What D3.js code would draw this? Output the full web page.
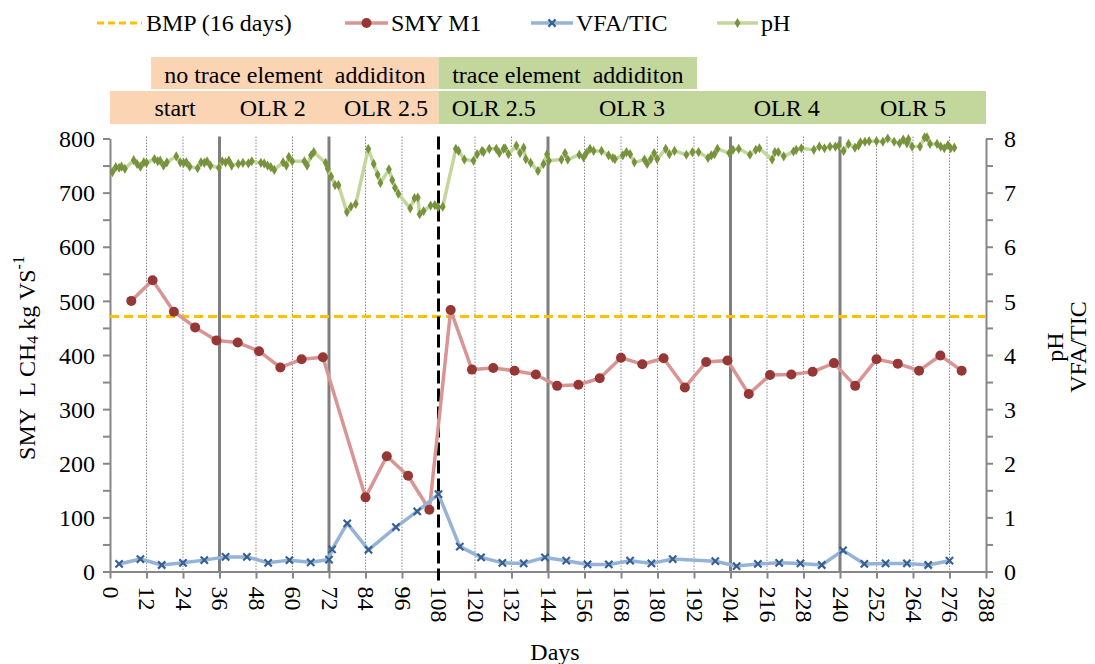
<!DOCTYPE html>
<html><head><meta charset="utf-8">
<script src="https://cdn.jsdelivr.net/npm/d3@7"></script>
<style>
body{margin:0;background:#fff;}
text{font-family:"Liberation Serif","Times New Roman",serif;fill:#000;}
</style>
</head><body>
<svg id="chart" width="1095" height="664"></svg>
<script>
// ---------- DATA ----------
const bmpValue = 471;
const smyDays   = [7,14,21,28,35,42,49,56,63,70,84,91,98,105,112,119,126,133,140,147,154,161,168,175,182,189,196,203,210,217,224,231,238,245,252,259,266,273,280];
const smyValues = [500,538,480,451,427,423,407,377,392,396,137,213,177,114,483,373,376,371,364,343,345,357,395,383,394,340,387,390,328,363,364,369,385,343,392,384,371,399,371];

const vfaDays   = [3,10,17,24,31,38,45,52,59,66,72,73,78,85,94,101,108,115,122,129,136,143,150,157,164,171,178,185,199,206,213,220,227,234,241,248,255,262,269,276];
const vfaValues = [0.14,0.23,0.12,0.16,0.21,0.27,0.27,0.16,0.21,0.17,0.22,0.41,0.89,0.40,0.82,1.11,1.43,0.46,0.26,0.16,0.15,0.26,0.20,0.13,0.13,0.20,0.15,0.23,0.19,0.10,0.14,0.16,0.15,0.12,0.39,0.14,0.15,0.15,0.12,0.20];

const phDays = [0.8,1.9,3,3.8,4.9,7.8,8.9,10,11.1,12,14.6,15.7,16.5,17.6,18.7,21.8,23.1,24.2,25.1,26.2,28.8,29.9,31,31.9,33,35.8,36.9,38,39.1,40,42.2,43.7,45.5,46.6,49.6,50.7,51.8,52.9,54,56.9,58,58.8,59.9,63.9,64.8,66.1,67,70.9,71.6,72.7,74,75.1,77.9,79.2,80.8,84.9,86.7,88,88.9,91.7,92.8,93.7,94.8,98.7,100.1,101.2,101.8,103.1,105.4,106.8,107.9,109.4,
  113.7,114.6,116.5,119.5,120.7,122.3,122.8,124.7,127,128,129.4,129.9,131,133.6,134.8,136,136.7,138.3,140.7,142.5,143.7,144.3,148.4,149.6,150.5,154.3,155.7,156.6,157.8,159,161.6,163.9,165.3,166,168.6,169.8,171,172.4,175.7,176.6,177.8,178.9,179.9,182.7,183.9,185.6,189.5,191.5,193.5,196.6,197.7,198.7,199.7,203.6,204.8,206.7,210.4,212.3,213.5,217.7,218.6,219.7,221.5,224.7,225.6,227.3,231.4,233.2,234.9,236.7,238.5,239.6,241.2,242.8,244.9,246.1,246.7,248.2,249.6,252,254.1,255.7,257.8,259.6,260.8,262,262.5,263.7,266.3,267.8,268.6,269.6,271.9,273.1,274.3,275.5,276.4,277.6];
const phValues = [7.38,7.47,7.46,7.48,7.44,7.60,7.53,7.48,7.56,7.55,7.62,7.58,7.59,7.50,7.56,7.67,7.56,7.55,7.56,7.48,7.45,7.56,7.55,7.58,7.50,7.46,7.58,7.56,7.59,7.50,7.53,7.55,7.54,7.58,7.55,7.54,7.50,7.47,7.42,7.56,7.50,7.66,7.58,7.58,7.50,7.69,7.75,7.55,7.44,7.30,7.14,7.14,6.64,6.74,6.79,7.81,7.53,7.33,7.18,7.43,7.23,7.09,6.98,6.71,6.90,6.91,6.60,6.66,6.76,6.77,6.73,6.74,
  7.81,7.77,7.61,7.59,7.71,7.77,7.75,7.81,7.81,7.73,7.81,7.82,7.71,7.87,7.73,7.83,7.62,7.55,7.40,7.53,7.71,7.59,7.61,7.73,7.61,7.70,7.65,7.73,7.81,7.77,7.77,7.69,7.64,7.62,7.69,7.75,7.71,7.56,7.61,7.53,7.62,7.73,7.62,7.81,7.71,7.77,7.70,7.75,7.75,7.64,7.69,7.71,7.81,7.73,7.79,7.81,7.70,7.79,7.82,7.61,7.75,7.75,7.67,7.76,7.79,7.82,7.79,7.85,7.82,7.85,7.85,7.87,7.77,7.90,7.83,7.87,7.93,7.94,7.95,7.95,7.94,8.00,7.94,7.91,7.98,7.91,7.99,7.85,7.85,8.02,8.02,7.90,7.90,7.85,7.82,7.88,7.82,7.83];

const xTickValues = d3.range(0, 289, 12);
const phaseDays = [36, 72, 144, 204, 240];
const traceDay = 108;
const leftTicks = d3.range(0, 801, 50);
const rightTicks = d3.range(0, 8.01, 0.5);

const row1Labels = ["no trace element  addiditon", "trace element  addiditon"];
const row1Spans  = [[13.5, 108], [108, 193]];
const row2Spans  = [[0, 108], [108, 288]];
const row2Labels = ["start", "OLR 2", "OLR 2.5", "OLR 2.5", "OLR 3", "OLR 4", "OLR 5"];
const row2Centers = [21.4, 53.5, 90.7, 126.2, 171.6, 222.5, 264];

const legendNames = ["BMP (16 days)", "SMY M1", "VFA/TIC", "pH"];

// ---------- STYLE ----------
const C = {
  peach: "#FBD4B4", green: "#C3D69B", axis: "#878787",
  bmp: "#FFC000", smyLine: "#D99594", smyMark: "#953735",
  vfaLine: "#95B3D7", vfaMark: "#376092", phLine: "#C3D69B", phMark: "#77933C"
};
const FS = 24;

const svg = d3.select("#chart");
const x = d3.scaleLinear().domain([0, 288]).range([110, 986]);
const yL = d3.scaleLinear().domain([0, 800]).range([571.5, 138.5]);
const yR = d3.scaleLinear().domain([0, 8]).range([571.5, 138.5]);

// ---------- header bands ----------
const hdr = svg.append("g");
const row1Colors = [C.peach, C.green];
row1Spans.forEach((s, i) => {
  hdr.append("rect").attr("x", x(s[0])).attr("y", 57).attr("width", x(s[1]) - x(s[0])).attr("height", 32).attr("fill", row1Colors[i]);
  hdr.append("text").attr("x", (x(s[0]) + x(s[1])) / 2).attr("y", 83).attr("text-anchor", "middle")
    .attr("font-size", FS).style("white-space", "pre").text(row1Labels[i]);
});
row2Spans.forEach((s, i) => {
  hdr.append("rect").attr("x", x(s[0])).attr("y", 91).attr("width", x(s[1]) - x(s[0])).attr("height", 33).attr("fill", row1Colors[i]);
});
row2Labels.forEach((l, i) => {
  hdr.append("text").attr("x", x(row2Centers[i])).attr("y", 116).attr("text-anchor", "middle")
    .attr("font-size", FS).text(l);
});

// ---------- grid / phase lines ----------
const grid = svg.append("g");
xTickValues.filter(d => d > 0 && d < 288 && d !== traceDay && !phaseDays.includes(d)).forEach(d => {
  grid.append("line").attr("x1", x(d)).attr("x2", x(d)).attr("y1", yL(800) - 2).attr("y2", yL(0))
    .attr("stroke", "#8a8a8a").attr("stroke-width", 1).attr("stroke-dasharray", "1.5,1.5");
});
phaseDays.forEach(d => {
  grid.append("line").attr("x1", x(d)).attr("x2", x(d)).attr("y1", yL(800) - 2).attr("y2", yL(0))
    .attr("stroke", "#7f7f7f").attr("stroke-width", 3);
});

// ---------- axes ----------
function styleAxis(g) {
  g.selectAll(".domain").attr("stroke", C.axis).attr("stroke-width", 2);
  g.selectAll(".tick line").attr("stroke", C.axis).attr("stroke-width", 2);
  g.selectAll(".tick text").attr("font-size", FS).attr("font-family", "Liberation Serif").attr("fill", "#000");
}
const gL = svg.append("g").attr("transform", `translate(${x(0)},0)`)
  .call(d3.axisLeft(yL).tickValues(leftTicks).tickSize(7).tickSizeOuter(0).tickPadding(8)
    .tickFormat(d => d % 100 === 0 ? d : ""));
styleAxis(gL);
gL.selectAll(".tick text").attr("dy", "0.34em");

const gR = svg.append("g").attr("transform", `translate(${x(288)},0)`)
  .call(d3.axisRight(yR).tickValues(rightTicks).tickSize(7).tickSizeOuter(0).tickPadding(11)
    .tickFormat(d => Number.isInteger(d) ? d : ""));
styleAxis(gR);
gR.selectAll(".tick text").attr("dy", "0.34em");

const gB = svg.append("g").attr("transform", `translate(0,${yL(0)})`)
  .call(d3.axisBottom(x).tickValues(xTickValues).tickSize(7).tickSizeOuter(0));
styleAxis(gB);
gB.selectAll(".tick text").attr("y", null).attr("dy", null)
  .attr("transform", "translate(0,15) rotate(90)").attr("text-anchor", "start")
  .attr("dominant-baseline", "central");

// ---------- BMP line ----------
svg.append("line").attr("x1", x(0)).attr("x2", x(288)).attr("y1", yL(bmpValue)).attr("y2", yL(bmpValue))
  .attr("stroke", C.bmp).attr("stroke-width", 3).attr("stroke-dasharray", "9,5");

// ---------- trace element line ----------
svg.append("line").attr("x1", x(traceDay)).attr("x2", x(traceDay)).attr("y1", yL(800) - 2).attr("y2", yL(0) + 9)
  .attr("stroke", "#000").attr("stroke-width", 3).attr("stroke-dasharray", "13,5");

// ---------- series ----------
const smy = smyDays.map((d, i) => [d, smyValues[i]]);
const vfa = vfaDays.map((d, i) => [d, vfaValues[i]]);
const ph = phDays.map((d, i) => [d, phValues[i]]);

svg.append("path").datum(smy).attr("fill", "none").attr("stroke", C.smyLine).attr("stroke-width", 3.5)
  .attr("stroke-linejoin", "round").attr("d", d3.line().x(d => x(d[0])).y(d => yL(d[1])));
svg.append("path").datum(vfa).attr("fill", "none").attr("stroke", C.vfaLine).attr("stroke-width", 3.5)
  .attr("stroke-linejoin", "round").attr("d", d3.line().x(d => x(d[0])).y(d => yR(d[1])));
svg.append("path").datum(ph).attr("fill", "none").attr("stroke", C.phLine).attr("stroke-width", 3.5)
  .attr("stroke-linejoin", "round").attr("d", d3.line().x(d => x(d[0])).y(d => yR(d[1])));

svg.append("g").selectAll("circle").data(smy).join("circle")
  .attr("cx", d => x(d[0])).attr("cy", d => yL(d[1])).attr("r", 5).attr("fill", C.smyMark);

const xSym = d3.symbol().type(d3.symbolX).size(36);
svg.append("g").selectAll("path").data(vfa).join("path")
  .attr("transform", d => `translate(${x(d[0])},${yR(d[1])})`).attr("d", xSym)
  .attr("fill", "none").attr("stroke", C.vfaMark).attr("stroke-width", 2.2);

const dSym = d3.symbol().type(d3.symbolDiamond).size(30);
svg.append("g").selectAll("path").data(ph).join("path")
  .attr("transform", d => `translate(${x(d[0])},${yR(d[1])})`).attr("d", dSym)
  .attr("fill", C.phMark);

// ---------- axis titles ----------
const lt = svg.append("text").attr("transform", "translate(27,358) rotate(-90)")
  .attr("text-anchor", "middle").attr("dominant-baseline", "central").attr("font-size", FS).style("white-space", "pre");
lt.append("tspan").text("SMY  L CH");
lt.append("tspan").attr("font-size", 16).attr("dy", 5).text("4");
lt.append("tspan").attr("dy", -5).text(" kg VS");
lt.append("tspan").attr("font-size", 16).attr("dy", -9).text("-1");

// rotated -90: baseline is a vertical line at the given x, glyphs extend to the left
svg.append("text").attr("transform", "translate(1063,347) rotate(-90)").attr("text-anchor", "middle")
  .attr("font-size", FS).text("pH");
svg.append("text").attr("transform", "translate(1086,347) rotate(-90)").attr("text-anchor", "middle")
  .attr("font-size", FS).text("VFA/TIC");

svg.append("text").attr("x", 555).attr("y", 660).attr("text-anchor", "middle").attr("font-size", FS).text("Days");

// ---------- legend ----------
const lg = svg.append("g");
const legY = 23;
const legItems = [
  {x1: 97, x2: 142, tx: 146},
  {x1: 345, x2: 388, tx: 391},
  {x1: 531, x2: 573, tx: 576},
  {x1: 717, x2: 758, tx: 761}
];
const legStroke = [C.bmp, C.smyLine, C.vfaLine, C.phLine];
legItems.forEach((it, i) => {
  const ln = lg.append("line").attr("x1", it.x1).attr("x2", it.x2).attr("y1", legY).attr("y2", legY)
    .attr("stroke", legStroke[i]).attr("stroke-width", 3.5);
  if (i === 0) ln.attr("stroke-dasharray", "7,4").attr("stroke-width", 3);
  const cx = (it.x1 + it.x2) / 2;
  if (i === 1) lg.append("circle").attr("cx", cx).attr("cy", legY).attr("r", 5).attr("fill", C.smyMark);
  if (i === 2) lg.append("path").attr("transform", `translate(${cx},${legY})`).attr("d", xSym).attr("fill", "none").attr("stroke", C.vfaMark).attr("stroke-width", 2.2);
  if (i === 3) lg.append("path").attr("transform", `translate(${cx},${legY})`).attr("d", dSym).attr("fill", C.phMark);
  lg.append("text").attr("x", it.tx).attr("y", legY).attr("dominant-baseline", "central").attr("font-size", FS).text(legendNames[i]);
});
</script>
</body></html>
